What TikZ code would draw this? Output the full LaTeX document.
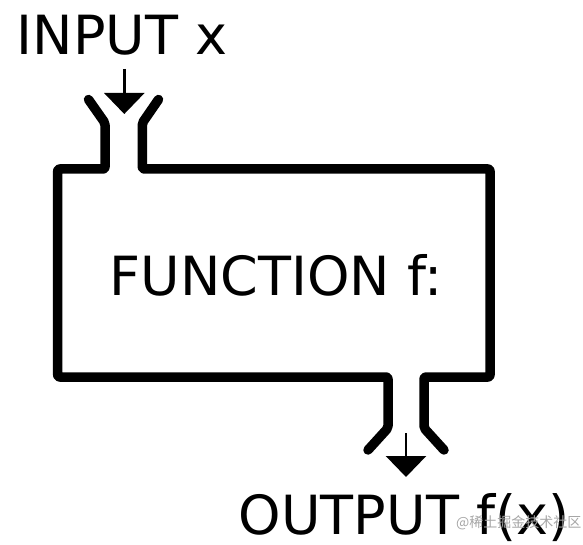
\documentclass[tikz,border=0pt]{standalone}
\usepackage{fontspec}
\setmainfont{DejaVu Sans}
\newfontfamily\cjkwm{Noto Sans CJK SC}
\usetikzlibrary{arrows.meta}
\begin{document}
\begin{tikzpicture}[x=1pt,y=-1pt,
  outline/.style={line width=9.5pt, line cap=round, line join=round, rounded corners=2pt},
  flowarrow/.style={line width=2.7pt, -{Triangle[width=40pt,length=21pt]}},
  label/.style={inner sep=0pt, anchor=base west, font=\fontsize{54}{60}\selectfont},
  wm/.style={inner sep=0pt, anchor=base west, text=black!35, font=\cjkwm\fontsize{14}{16}\selectfont}]
\useasboundingbox (0,0) rectangle (583,545);
% key points
\coordinate (inL) at (88.5,99.5);
\coordinate (inLb) at (105,123);
\coordinate (inLc) at (105,169);
\coordinate (tl) at (57.7,169);
\coordinate (bl) at (57.7,377);
\coordinate (outLc) at (388,377);
\coordinate (outLb) at (388,428);
\coordinate (outL) at (368,450);
\coordinate (inR) at (158.5,99.5);
\coordinate (inRb) at (142.3,123);
\coordinate (inRc) at (142.3,169);
\coordinate (tr) at (490,169);
\coordinate (br) at (490,377);
\coordinate (outRc) at (424,377);
\coordinate (outRb) at (424,428);
\coordinate (outR) at (444,450);
\draw[outline] (inL) -- (inLb) -- (inLc) -- (tl) -- (bl) -- (outLc) -- (outLb) -- (outL);
\draw[outline] (inR) -- (inRb) -- (inRc) -- (tr) -- (br) -- (outRc) -- (outRb) -- (outR);
% arrows
\coordinate (inA) at (124.3,69);
\coordinate (inTip) at (124.3,114);
\coordinate (outA) at (406,433);
\coordinate (outTip) at (406,477);
\draw[flowarrow] (inA) -- (inTip);
\draw[flowarrow] (outA) -- (outTip);
% labels
\node[label] (input) at (16.5,55) {INPUT x};
\node[label] (func) at (109.7,295) {FUNCTION f:};
\node[label] (output) at (238.7,534) {OUTPUT f(x)};
\node[wm] (mark) at (456,527) {@稀土掘金技术社区};
\end{tikzpicture}
\end{document}
